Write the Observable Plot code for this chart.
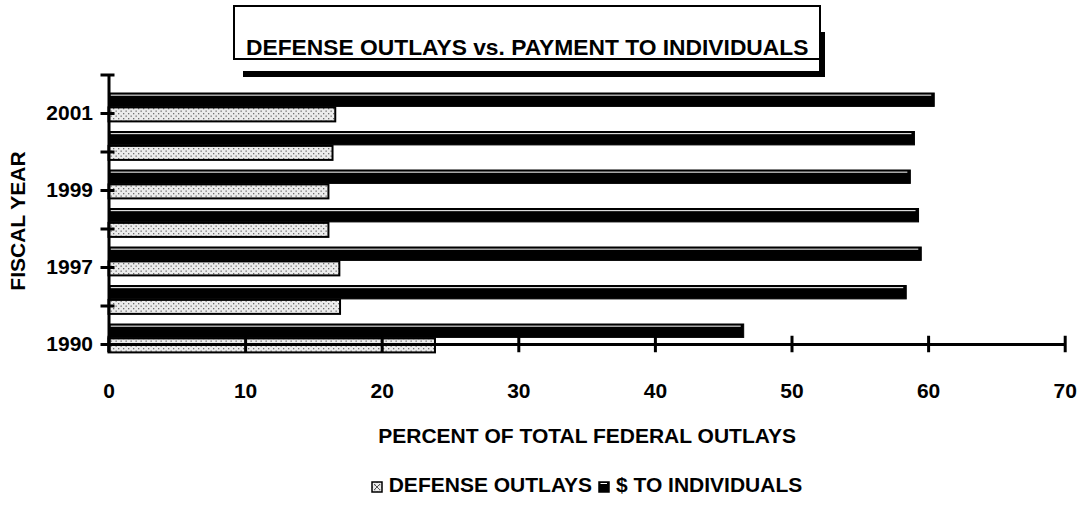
<!DOCTYPE html>
<html><head><meta charset="utf-8">
<script src="https://cdn.jsdelivr.net/npm/d3@7"></script>
<script src="https://cdn.jsdelivr.net/npm/@observablehq/plot@0.6"></script>
<style>
body{margin:0;background:#fff;font-family:"Liberation Sans",Arial,sans-serif;}
#wrap{position:relative;width:1077px;height:520px;overflow:hidden;background:#fff;}
#chart{position:absolute;left:0;top:0;}
#titlebox{position:absolute;left:233px;top:5px;width:584px;height:51px;border:2px solid #000;background:#fff;}
#shadowB{position:absolute;left:243px;top:71px;width:582px;height:6px;background:#000;}
#shadowR{position:absolute;left:819px;top:32px;width:6px;height:45px;background:#000;}
#title{position:absolute;left:246px;top:36px;font-weight:bold;font-size:22.8px;line-height:1;white-space:nowrap;color:#000;}
#ylabel{position:absolute;left:-82px;top:209px;width:200px;height:24px;line-height:24px;text-align:center;transform:rotate(-90deg);font-weight:bold;font-size:21px;white-space:nowrap;color:#000;}
#legend{position:absolute;left:108px;top:474px;width:957px;text-align:center;font-weight:bold;font-size:21px;line-height:22px;white-space:nowrap;color:#000;}
#legend svg{vertical-align:-1px;margin-right:6px;}
</style></head>
<body>
<div id="wrap">
  <div id="chart"></div>
  <div id="shadowB"></div><div id="shadowR"></div>
  <div id="titlebox"></div>
  <div id="title"></div>
  <div id="ylabel"></div>
  <div id="legend"></div>
</div>
<script>
const titleText = "DEFENSE OUTLAYS vs. PAYMENT TO INDIVIDUALS";
const xLabel = "PERCENT OF TOTAL FEDERAL OUTLAYS";
const yLabel = "FISCAL YEAR";
const years = ["2001", "2000", "1999", "1998", "1997", "1996", "1990"];
const yearLabels = ["2001", "1999", "1997", "1990"];
const defense = [16.6, 16.4, 16.1, 16.1, 16.9, 16.95, 23.9];
const individuals = [60.45, 59.0, 58.7, 59.3, 59.5, 58.4, 46.5];
const xTicks = [0, 10, 20, 30, 40, 50, 60, 70];
const seriesNames = ["DEFENSE OUTLAYS", "$ TO INDIVIDUALS"];

const rows = years.map((y, i) => ({year: y, defense: defense[i], individuals: individuals[i]}));
const yDomain = ["", ...years];

const plot = Plot.plot({
  width: 1077, height: 460,
  marginLeft: 108.5, marginRight: 12.3, marginTop: 75, marginBottom: 108,
  x: {domain: [0, 70], label: null},
  y: {type: "band", domain: yDomain, range: [55.25, 363.25], padding: 0, round: false, label: null},
  style: {fontFamily: "'Liberation Sans', Arial, sans-serif", fontSize: "21px", fontWeight: "bold", color: "#000", background: "#fff"},
  marks: [
    Plot.barX(rows, {y: "year", x: "individuals", fill: "#000", stroke: "#000", strokeWidth: 1, insetTop: -0.75, insetBottom: 25.85}),
    Plot.barX(rows, {y: "year", x: "individuals", fill: "#fff", insetTop: 0.9, insetBottom: 36.6, insetLeft: 2, insetRight: 3}),
    Plot.barX(rows, {y: "year", x: "defense", fill: "url(#dots)", stroke: "#000", strokeWidth: 2, insetTop: 13.65, insetBottom: 10.85}),
    Plot.ruleX([0], {stroke: "#000", strokeWidth: 3}),
    Plot.ruleY(["1990"], {stroke: "#000", strokeWidth: 3}),
    Plot.tickX(xTicks, {x: d => d, y: () => "1990", stroke: "#000", strokeWidth: 3, insetTop: 11, insetBottom: 11}),
    Plot.axisY({ticks: yDomain, tickSize: 14, dx: 6, tickFormat: () => "", strokeWidth: 3, label: null}),
    Plot.axisY({ticks: yearLabels, tickSize: 0, tickPadding: 16, label: null}),
    Plot.axisX({ticks: xTicks, tickSize: 0, tickPadding: 31, label: null}),
    Plot.text([xLabel], {text: d => d, frameAnchor: "bottom", dy: 84, lineAnchor: "middle"})
  ]
});

const ns = "http://www.w3.org/2000/svg";
function makePattern(svg) {
  const defs = document.createElementNS(ns, "defs");
  const pat = document.createElementNS(ns, "pattern");
  pat.setAttribute("id", "dots");
  pat.setAttribute("patternUnits", "userSpaceOnUse");
  pat.setAttribute("width", "5");
  pat.setAttribute("height", "5");
  const bg = document.createElementNS(ns, "rect");
  bg.setAttribute("width", "5"); bg.setAttribute("height", "5"); bg.setAttribute("fill", "#ececec");
  pat.appendChild(bg);
  [[0.5, 0.5], [3, 3]].forEach(([cx, cy]) => {
    const r = document.createElementNS(ns, "rect");
    r.setAttribute("x", cx); r.setAttribute("y", cy);
    r.setAttribute("width", "1.3"); r.setAttribute("height", "1.3");
    r.setAttribute("fill", "#707070");
    pat.appendChild(r);
  });
  defs.appendChild(pat);
  svg.insertBefore(defs, svg.firstChild);
}
makePattern(plot);
document.getElementById("chart").appendChild(plot);
document.getElementById("title").textContent = titleText;
document.getElementById("ylabel").textContent = yLabel;

const sw1 = `<svg width="12" height="12"><rect x="1" y="1" width="10" height="10" fill="url(#dots)" stroke="#000" stroke-width="1.5"/><path d="M3 3L9 9M9 3L3 9" stroke="#555" stroke-width="1"/></svg>`;
const sw2 = `<svg width="12" height="12"><rect x="1" y="1" width="10" height="10" fill="#000" stroke="#000" stroke-width="1.5"/><line x1="2.5" y1="2.5" x2="9" y2="2.5" stroke="#fff" stroke-width="1"/></svg>`;
document.getElementById("legend").innerHTML =
  `${sw1}<span>${seriesNames[0]}</span> ${sw2}<span>${seriesNames[1]}</span>`;
</script>
</body></html>
